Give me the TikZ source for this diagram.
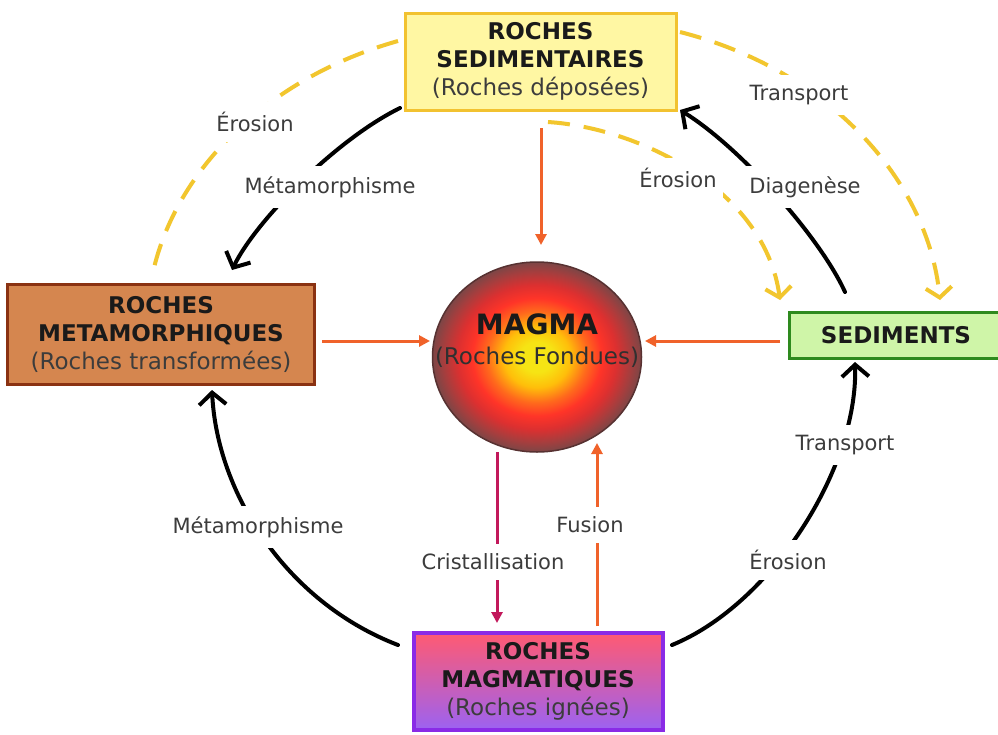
\documentclass[tikz,border=0pt]{standalone}
\usepackage{fontspec}
\setmainfont{DejaVu Sans}
\usetikzlibrary{arrows.meta,shapes.geometric}
\definecolor{sedfill}{HTML}{FFF7A3}
\definecolor{seddraw}{HTML}{F2C230}
\definecolor{metafill}{HTML}{D5864F}
\definecolor{metadraw}{HTML}{8A3212}
\definecolor{sedifill}{HTML}{CFF5A8}
\definecolor{sedidraw}{HTML}{2E8A1E}
\definecolor{magmtop}{HTML}{FF5A72}
\definecolor{magmbot}{HTML}{9C62F2}
\definecolor{magmdraw}{HTML}{8A2BE6}
\definecolor{dashyel}{HTML}{F2C62E}
\definecolor{arrorg}{HTML}{F0622A}
\definecolor{arrcri}{HTML}{C2185B}
\definecolor{lblgray}{HTML}{3C3C3C}
\definecolor{txtdark}{HTML}{1A1A1A}
\definecolor{mgY}{HTML}{F6E414}
\definecolor{mgA}{HTML}{FFBE0A}
\definecolor{mgO}{HTML}{FF6A1C}
\definecolor{mgR}{HTML}{FF3428}
\definecolor{mgD}{HTML}{DC3030}
\definecolor{mgB}{HTML}{A53E3E}
\definecolor{mgE}{HTML}{7C4646}
\pgfdeclareradialshading{magmashade}{\pgfpoint{0bp}{0bp}}{%
  color(0bp)=(mgY); color(4bp)=(mgY); color(8bp)=(mgA); color(12bp)=(mgO);
  color(15.5bp)=(mgR); color(19bp)=(mgD); color(22.5bp)=(mgB); color(25bp)=(mgE); color(50bp)=(mgE)}
\begin{document}
\begin{tikzpicture}[x=1pt,y=-1pt,
  box/.style={draw, line width=3pt, inner sep=0pt, align=center, text=txtdark,
    font=\fontsize{23}{28}\selectfont},
  lbl/.style={fill=white, inner xsep=6pt, inner ysep=10pt, text=lblgray,
    font=\fontsize{21}{24}\selectfont},
  blk/.style={line width=4pt, line cap=round, -{Straight Barb[length=12pt,width=27pt]}},
  yel/.style={draw=dashyel, line width=4pt, dash pattern=on 22pt off 14pt},
  yelarr/.style={yel, -{Straight Barb[length=10pt,width=26pt,line width=4pt]}},
  org/.style={draw=arrorg, line width=3pt, -{Triangle[length=11pt,width=11pt]}},
  cri/.style={draw=arrcri, line width=3pt, -{Triangle[length=11pt,width=11pt]}}]
\useasboundingbox (0,0) rectangle (998,734);
\fill[white] (0,0) rectangle (998,734);

% boxes
\node[box, draw=seddraw, fill=sedfill, minimum width=271pt, minimum height=97pt]
  (sed) at (540.5,61.5) {\textbf{ROCHES}\\\textbf{SEDIMENTAIRES}\\{\color{lblgray}(Roches déposées)}};
\node[box, draw=metadraw, fill=metafill, minimum width=307pt, minimum height=100pt]
  (meta) at (161,334.5) {\textbf{ROCHES}\\\textbf{METAMORPHIQUES}\\{\color{lblgray}(Roches transformées)}};
\node[box, draw=magmdraw, line width=4pt, top color=magmtop, bottom color=magmbot,
  minimum width=249pt, minimum height=97pt]
  (magm) at (538,681.5) {\textbf{ROCHES}\\\textbf{MAGMATIQUES}\\{\color{lblgray}(Roches ignées)}};
\node[box, draw=sedidraw, fill=sedifill, minimum width=214pt, minimum height=46pt]
  (sedi) at (896,335) {\textbf{SEDIMENTS}};
\node[ellipse, draw=mgE!70!black, line width=1.5pt, shading=magmashade,
  minimum width=209pt, minimum height=190pt, inner sep=0pt] (magma) at (537,357) {};
\node[align=center, text=txtdark, font=\fontsize{23}{30}\selectfont] (magmatxt) at (537,341)
  {{\fontsize{28}{30}\selectfont\textbf{MAGMA}}\\{\color{lblgray!80!black}(Roches Fondues)}};

% coordinates for arc ends
\coordinate (y1s) at (398,41);   \coordinate (y1e) at (153,272);
\coordinate (y2s) at (680,32);   \coordinate (y2e) at (940,300);
\coordinate (y3s) at (548,122);  \coordinate (y3e) at (780,300);
\coordinate (b1s) at (400,108);  \coordinate (b1e) at (232,270);
\coordinate (b2s) at (398,645);  \coordinate (b2e) at (212,390);
\coordinate (b3s) at (672,645);  \coordinate (b3e) at (855,362);
\coordinate (b4s) at (845,292);  \coordinate (b4e) at (680,110);

% yellow dashed arcs
\draw[yel] (y1s) .. controls (267,78) and (176,170) .. (y1e);
\draw[yelarr] (y2s) .. controls (829,70) and (928,180) .. (y2e);
\draw[yelarr] (y3s) .. controls (640,128) and (765,190) .. (y3e);

% black arcs
\draw[blk] (b1s) .. controls (335,140) and (255,222) .. (b1e);
\draw[blk] (b2s) .. controls (286,602) and (217,493) .. (b2e);
\draw[blk] (b3s) .. controls (770,605) and (858,470) .. (b3e);
\draw[blk] (b4s) .. controls (820,237) and (740,147) .. (b4e);

% straight arrows
\coordinate (o1s) at (541,128); \coordinate (o1e) at (541,245);
\coordinate (o2s) at (322,341); \coordinate (o2e) at (430,341);
\coordinate (o3s) at (780,341); \coordinate (o3e) at (645,341);
\coordinate (c1s) at (497,452); \coordinate (c1e) at (497,623);
\coordinate (f1s) at (597,626); \coordinate (f1e) at (597,443);
\draw[org] (o1s) -- (o1e);
\draw[org] (o2s) -- (o2e);
\draw[org] (o3s) -- (o3e);
\draw[cri] (c1s) -- (c1e);
\draw[org] (f1s) -- (f1e);

% labels
\node[lbl] (l1) at (255,122) {Érosion};
\node[lbl] (l2) at (330,187) {Métamorphisme};
\node[lbl] (l3) at (799,95) {Transport};
\node[lbl] (l4) at (678,178) {Érosion};
\node[lbl] (l5) at (805,187) {Diagenèse};
\node[lbl] (l6) at (258,527) {Métamorphisme};
\node[lbl] (l7) at (493,562) {Cristallisation};
\node[lbl] (l8) at (590,525) {Fusion};
\node[lbl] (l9) at (845,445) {Transport};
\node[lbl] (l10) at (788,560) {Érosion};
\end{tikzpicture}
\end{document}
